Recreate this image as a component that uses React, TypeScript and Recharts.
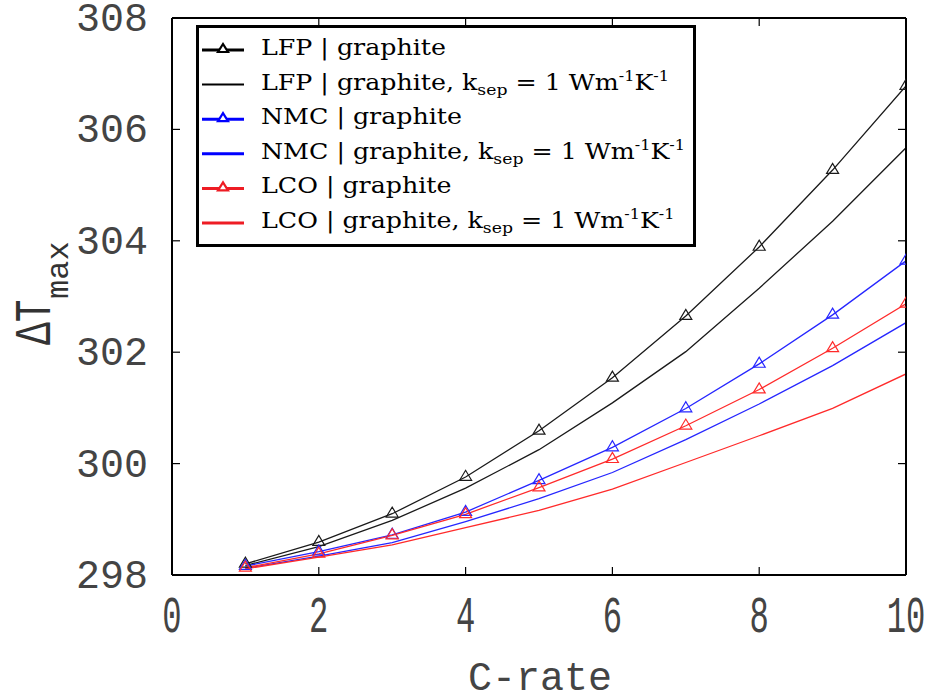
import React from 'react';
import { LineChart, Line, XAxis, YAxis, Legend } from 'recharts';

const cRate = [1, 2, 3, 4, 5, 6, 7, 8, 9, 10];
const lfp = [298.2, 298.59, 299.1, 299.76, 300.59, 301.54, 302.65, 303.89, 305.27, 306.78];
const lfpK = [298.17, 298.51, 298.98, 299.56, 300.25, 301.09, 302.01, 303.15, 304.35, 305.67];
const nmc = [298.16, 298.42, 298.72, 299.13, 299.7, 300.29, 300.99, 301.79, 302.67, 303.64];
const nmcK = [298.12, 298.34, 298.58, 298.96, 299.37, 299.84, 300.43, 301.07, 301.76, 302.53];
const lco = [298.13, 298.38, 298.71, 299.09, 299.57, 300.08, 300.68, 301.33, 302.07, 302.87];
const lcoK = [298.11, 298.32, 298.54, 298.85, 299.16, 299.54, 300.02, 300.5, 300.99, 301.61];

const xTicks = [0, 2, 4, 6, 8, 10];
const yTicks = [298, 300, 302, 304, 306, 308];

const seriesDefs = [
  { key: 'lfp', label: 'LFP | graphite', values: lfp, color: '#1a1a1a', legendColor: '#000', marker: true, ksep: false },
  { key: 'lfpK', label: 'LFP | graphite', values: lfpK, color: '#1a1a1a', legendColor: '#000', marker: false, ksep: true },
  { key: 'nmc', label: 'NMC | graphite', values: nmc, color: '#2626ff', legendColor: '#0000ff', marker: true, ksep: false },
  { key: 'nmcK', label: 'NMC | graphite', values: nmcK, color: '#2626ff', legendColor: '#0000ff', marker: false, ksep: true },
  { key: 'lco', label: 'LCO | graphite', values: lco, color: '#ff2a2a', legendColor: '#ee1c24', marker: true, ksep: false },
  { key: 'lcoK', label: 'LCO | graphite', values: lcoK, color: '#ff2a2a', legendColor: '#ee1c24', marker: false, ksep: true },
];

const data = cRate.map((c, i) => {
  const row: Record<string, number> = { c };
  seriesDefs.forEach((s) => {
    row[s.key] = s.values[i];
  });
  return row;
});

const makeTriangle = (color: string) => (props: any) => {
  const { cx, cy, index } = props;
  if (cx == null || cy == null) return <g key={`e-${index}`} />;
  const hw = 6;
  const h = 10;
  const d = `M${cx - hw},${cy + h / 3} L${cx + hw},${cy + h / 3} L${cx},${cy - (2 * h) / 3} Z`;
  return <path key={`t-${index}`} d={d} fill="none" stroke={color} strokeWidth={1.2} />;
};

const XTick = (props: any) => {
  const { x, y, payload } = props;
  return (
    <text
      x={0}
      y={0}
      transform={`translate(${x},${y + 57}) scale(0.62,1)`}
      textAnchor="middle"
      fontFamily="'Liberation Mono', monospace"
      fontSize={52}
      fill="#444"
    >
      {payload.value}
    </text>
  );
};

const YTick = (props: any) => {
  const { x, y, payload } = props;
  return (
    <text x={x} y={y + 13} textAnchor="end" fontFamily="'Liberation Mono', monospace" fontSize={40} fill="#444">
      {payload.value}
    </text>
  );
};

const NoTick = () => <g />;

const YLabel = () => (
  <g fill="#333" fontFamily="'Liberation Mono', monospace">
    <text transform="translate(50,345) rotate(-90) scale(1,1.35)" fontSize={38}>
      ΔT
    </text>
    <text transform="translate(68,299) rotate(-90)" fontSize={32}>
      max
    </text>
  </g>
);

const XLabel = () => (
  <text x={540} y={690} textAnchor="middle" fontFamily="'Liberation Mono', monospace" fontSize={40} fill="#444">
    C-rate
  </text>
);

const LegendBox = () => (
  <svg width={500} height={222} style={{ display: 'block' }}>
    <rect x={1.5} y={1.5} width={497} height={219} fill="#fff" stroke="#000" strokeWidth={3} />
    {seriesDefs.map((s, i) => {
      const base = 30 + i * 34.6;
      const ly = base - 5;
      return (
        <g key={s.key}>
          <line x1={6} x2={48} y1={ly} y2={ly} stroke={s.legendColor} strokeWidth={s.key === 'lfpK' ? 2 : 3} />
          {s.marker && (
            <path
              d={`M${22},${ly + 2} L${32},${ly + 2} L${27},${ly - 6} Z`}
              fill="#fff"
              stroke={s.legendColor}
              strokeWidth={2.2}
            />
          )}
          <text
            transform={`translate(65,${base}) scale(1.15,1)`}
            fontFamily="'DejaVu Serif', serif"
            fontSize={22}
            fill="#000"
          >
            {s.label}
            {s.ksep && (
              <>
                <tspan>, k</tspan>
                <tspan fontSize={15} dy={5}>sep</tspan>
                <tspan dy={-5}> = 1 Wm</tspan>
                <tspan fontSize={14} dy={-9}>-1</tspan>
                <tspan dy={9}>K</tspan>
                <tspan fontSize={14} dy={-9}>-1</tspan>
              </>
            )}
          </text>
        </g>
      );
    })}
  </svg>
);

export default function App() {
  return (
    <div style={{ position: 'absolute', left: 0, top: 0, width: 933, height: 700, background: '#fff' }}>
      <LineChart width={933} height={700} data={data} margin={{ top: 17, right: 26, bottom: 0, left: 0 }}>
        <XAxis
          dataKey="c"
          type="number"
          domain={[0, 10]}
          ticks={xTicks}
          allowDataOverflow
          height={125}
          tickSize={-8}
          tickMargin={8}
          tick={<XTick />}
          axisLine={{ stroke: '#000', strokeWidth: 2 }}
          tickLine={{ stroke: '#000', strokeWidth: 1.2 }}
          label={{ content: () => <XLabel /> }}
        />
        <XAxis
          xAxisId="top"
          orientation="top"
          dataKey="c"
          type="number"
          domain={[0, 10]}
          ticks={xTicks}
          allowDataOverflow
          height={1}
          tickSize={-8}
          tick={<NoTick />}
          axisLine={{ stroke: '#000', strokeWidth: 2 }}
          tickLine={{ stroke: '#000', strokeWidth: 1.2 }}
        />
        <YAxis
          type="number"
          domain={[298, 308]}
          ticks={yTicks}
          allowDataOverflow
          width={172}
          tickSize={-8}
          tickMargin={32}
          tick={<YTick />}
          axisLine={{ stroke: '#000', strokeWidth: 2 }}
          tickLine={{ stroke: '#000', strokeWidth: 1.2 }}
          label={{ content: () => <YLabel /> }}
        />
        <YAxis
          yAxisId="right"
          orientation="right"
          type="number"
          domain={[298, 308]}
          ticks={yTicks}
          allowDataOverflow
          width={1}
          tickSize={-8}
          tick={<NoTick />}
          axisLine={{ stroke: '#000', strokeWidth: 2 }}
          tickLine={{ stroke: '#000', strokeWidth: 1.2 }}
        />
        <Legend
          layout="vertical"
          align="center"
          verticalAlign="middle"
          content={() => <LegendBox />}
          wrapperStyle={{ position: 'absolute', left: 196, top: 25, width: 500, height: 222 }}
        />
        {seriesDefs.map((s) => (
          <Line
            key={s.key}
            dataKey={s.key}
            type="linear"
            stroke={s.color}
            strokeWidth={1.3}
            dot={s.marker ? makeTriangle(s.color) : false}
            activeDot={false}
            isAnimationActive={false}
          />
        ))}
      </LineChart>
    </div>
  );
}
